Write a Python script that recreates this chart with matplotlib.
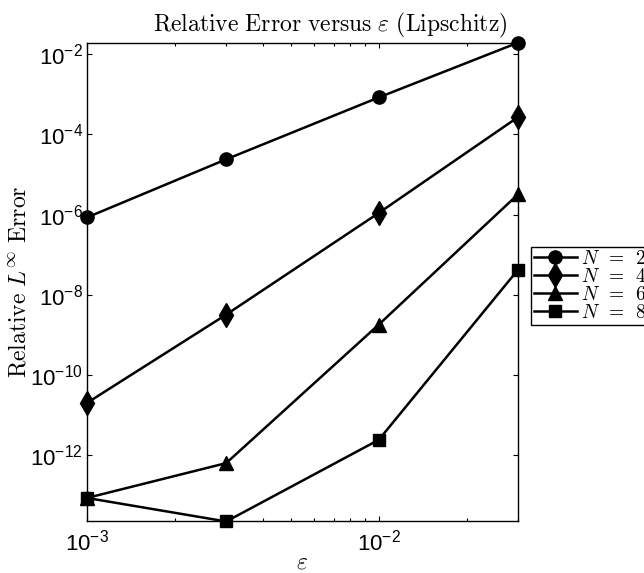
import matplotlib
matplotlib.use('Agg')
import matplotlib.pyplot as plt
from matplotlib.ticker import LogLocator, NullFormatter, NullLocator

# data (log-log)
eps = [1e-3, 3e-3, 1e-2, 3e-2]
err_n2 = [8.5e-7, 2.4e-5, 8.4e-4, 1.95e-2]
err_n4 = [2.0e-11, 3.2e-9, 1.1e-6, 2.7e-4]
err_n6 = [8.5e-14, 6.3e-13, 1.8e-9, 3.2e-6]
err_n8 = [8.5e-14, 2.2e-14, 2.4e-12, 4.2e-8]
series_labels = [r'$N\ \,=\ \,2$', r'$N\ \,=\ \,4$', r'$N\ \,=\ \,6$', r'$N\ \,=\ \,8$']
yticks = [1e-12, 1e-10, 1e-8, 1e-6, 1e-4, 1e-2]
xticks = [1e-3, 1e-2]

plt.rcParams['font.family'] = ['Liberation Sans', 'DejaVu Sans']
plt.rcParams['mathtext.fontset'] = 'custom'
plt.rcParams['mathtext.rm'] = 'Liberation Sans'
plt.rcParams['mathtext.it'] = 'Liberation Sans:italic'
plt.rcParams['mathtext.bf'] = 'Liberation Sans:bold'

fig = plt.figure(figsize=(6.44, 5.73), dpi=100)
ax = fig.add_axes([0.1351, 0.0899, 0.6692, 0.8356])

markers = ['o', 'd', '^', 's']
sizes = [9.5, 12, 10, 8.5]
all_err = [err_n2, err_n4, err_n6, err_n8]
for err, m, ms, lab in zip(all_err, markers, sizes, series_labels):
    ax.plot(eps, err, color='black', lw=1.8, marker=m, markersize=ms,
            label=lab, clip_on=False)

ax.set_xscale('log')
ax.set_yscale('log')
ax.set_xlim(min(eps), max(eps))
ymin = min(min(e) for e in all_err)
ymax = max(max(e) for e in all_err)
ax.set_ylim(ymin, ymax)

ax.set_yticks(yticks)
ax.yaxis.set_minor_locator(NullLocator())
ax.set_xticks(xticks)
ax.xaxis.set_minor_locator(LogLocator(base=10, subs=range(2, 10)))
ax.xaxis.set_minor_formatter(NullFormatter())

ax.tick_params(which='both', direction='in', top=True, right=True,
               labelsize=16, width=0.8)
ax.tick_params(which='major', length=3.5)
ax.tick_params(which='minor', length=2.5)
ax.tick_params(axis='y', pad=3)
ax.tick_params(axis='x', pad=6)
for s in ax.spines.values():
    s.set_linewidth(1.0)

ax.set_title(r'$\mathrm{Relative\ Error\ versus\ }\varepsilon\mathrm{\ (Lipschitz)}$',
             fontsize=17, pad=8, x=0.565, math_fontfamily='cm')
ax.set_xlabel(r'$\varepsilon$', fontsize=17, math_fontfamily='cm')
ax.xaxis.set_label_coords(0.5, -0.062)
ax.set_ylabel(r'$\mathrm{Relative\ }L^{\infty}\mathrm{\ Error}$', fontsize=17,
              math_fontfamily='cm')
ax.yaxis.set_label_coords(-0.13, 0.5)

leg = fig.legend(loc='upper left', bbox_to_anchor=(531 / 644, 1 - 247 / 573),
                 bbox_transform=fig.transFigure, borderaxespad=0,
                 fancybox=False, edgecolor='black', framealpha=1,
                 fontsize=14, handlelength=2.2, handletextpad=0.2,
                 labelspacing=0.0, borderpad=0.15)
leg.get_frame().set_linewidth(1.0)
for t in leg.get_texts():
    t.set_math_fontfamily('cm')

fig.savefig('out.png', dpi=100)
